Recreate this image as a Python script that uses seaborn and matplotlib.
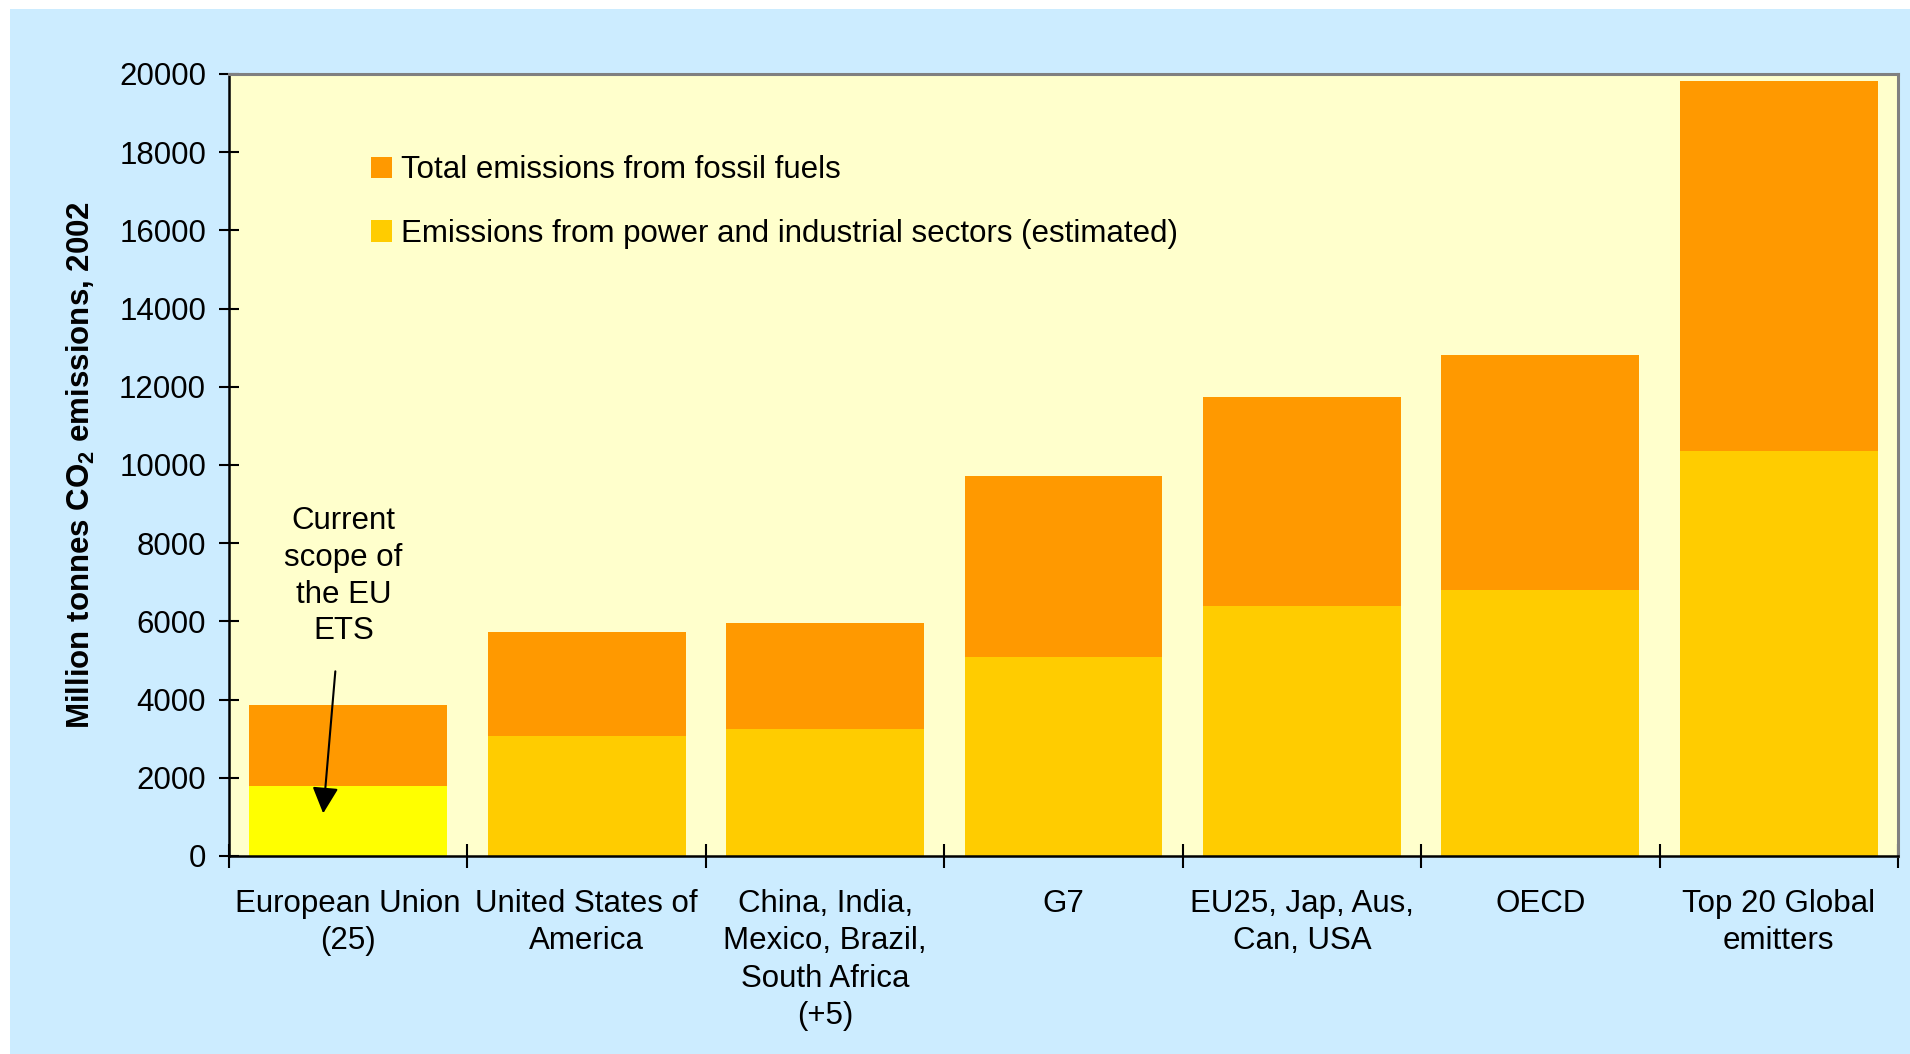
import pandas as pd
import matplotlib.pyplot as plt
import seaborn as sns
from matplotlib.patches import Patch, Rectangle

groups = ['European Union\n(25)', 'United States of\nAmerica',
          'China, India,\nMexico, Brazil,\nSouth Africa\n(+5)', 'G7',
          'EU25, Jap, Aus,\nCan, USA', 'OECD', 'Top 20 Global\nemitters']
total_fossil = [3870, 5740, 5960, 9730, 11730, 12820, 19810]
power_industry = [1780, 3060, 3250, 5090, 6400, 6800, 10360]
y_ticks = [0, 2000, 4000, 6000, 8000, 10000, 12000, 14000, 16000, 18000, 20000]

orange = '#FF9900'
gold = '#FFCC00'
bright = '#FFFF00'

plt.rcParams['font.family'] = ['Liberation Sans', 'DejaVu Sans']
plt.rcParams['mathtext.fontset'] = 'custom'
plt.rcParams['mathtext.rm'] = 'Liberation Sans'
plt.rcParams['mathtext.bf'] = 'Liberation Sans:bold'

data = pd.DataFrame({'group': groups, 'total': total_fossil, 'power': power_industry})

fig = plt.figure(figsize=(19.1, 10.54), dpi=100, facecolor='white')
fig.patches.append(Rectangle((10 / 1910, 0), 1, 1 - 9 / 1054, transform=fig.transFigure,
                             facecolor='#CCECFF', edgecolor='none', zorder=-10))
ax = fig.add_axes([0.1199, 0.1879, 0.8738, 0.7419])
ax.set_facecolor('#FFFFCC')

sns.barplot(data=data, x='group', y='total', color=orange, width=0.83,
            saturation=1, linewidth=0, ax=ax)
sns.barplot(data=data, x='group', y='power', hue='group',
            palette=[bright] + [gold] * 6, width=0.83, saturation=1,
            linewidth=0, legend=False, ax=ax)

ax.set_xlim(-0.5, 6.5)
ax.set_ylim(0, 20000)
ax.set_yticks(y_ticks)
ax.set_yticklabels([str(v) for v in y_ticks])
ax.set_xlabel('')
ax.set_ylabel('Million tonnes CO$_\\mathbf{2}$ emissions, 2002', fontsize=22.5,
              fontweight='bold')
ax.yaxis.set_label_coords(-0.079, 0.5)

ax.tick_params(axis='y', direction='inout', length=15, width=1.5, pad=9,
               labelsize=22.5, colors='black')
ax.tick_params(axis='x', which='major', length=0, pad=23.5, labelsize=22.5)
for lab in ax.get_xticklabels():
    lab.set_linespacing(1.33)
ax.set_xticks([i - 0.5 for i in range(8)], minor=True)
ax.tick_params(axis='x', which='minor', direction='inout', length=17, width=1.5)

for side in ['left', 'bottom']:
    ax.spines[side].set_color('black')
    ax.spines[side].set_linewidth(1.8)
for side in ['top', 'right']:
    ax.spines[side].set_color('#808080')
    ax.spines[side].set_linewidth(2.2)

handles = [Patch(facecolor=orange, edgecolor='none'), Patch(facecolor=gold, edgecolor='none')]
ax.legend(handles, ['Total emissions from fossil fuels',
                    'Emissions from power and industrial sectors (estimated)'],
          loc='upper left', bbox_to_anchor=(0.068, 0.932), frameon=False,
          fontsize=22.5, handlelength=0.68, handleheight=0.68, handletextpad=0.3,
          labelspacing=1.07)

ax.annotate('Current\nscope of\nthe EU\nETS', xy=(-0.105, 1090), xytext=(-0.02, 7150),
            ha='center', va='center', fontsize=22.5, linespacing=1.29,
            arrowprops=dict(arrowstyle='-|>', color='black', lw=1.5,
                            mutation_scale=40, shrinkA=16, shrinkB=0))

fig.savefig('out.png', dpi=100, facecolor=fig.get_facecolor())
